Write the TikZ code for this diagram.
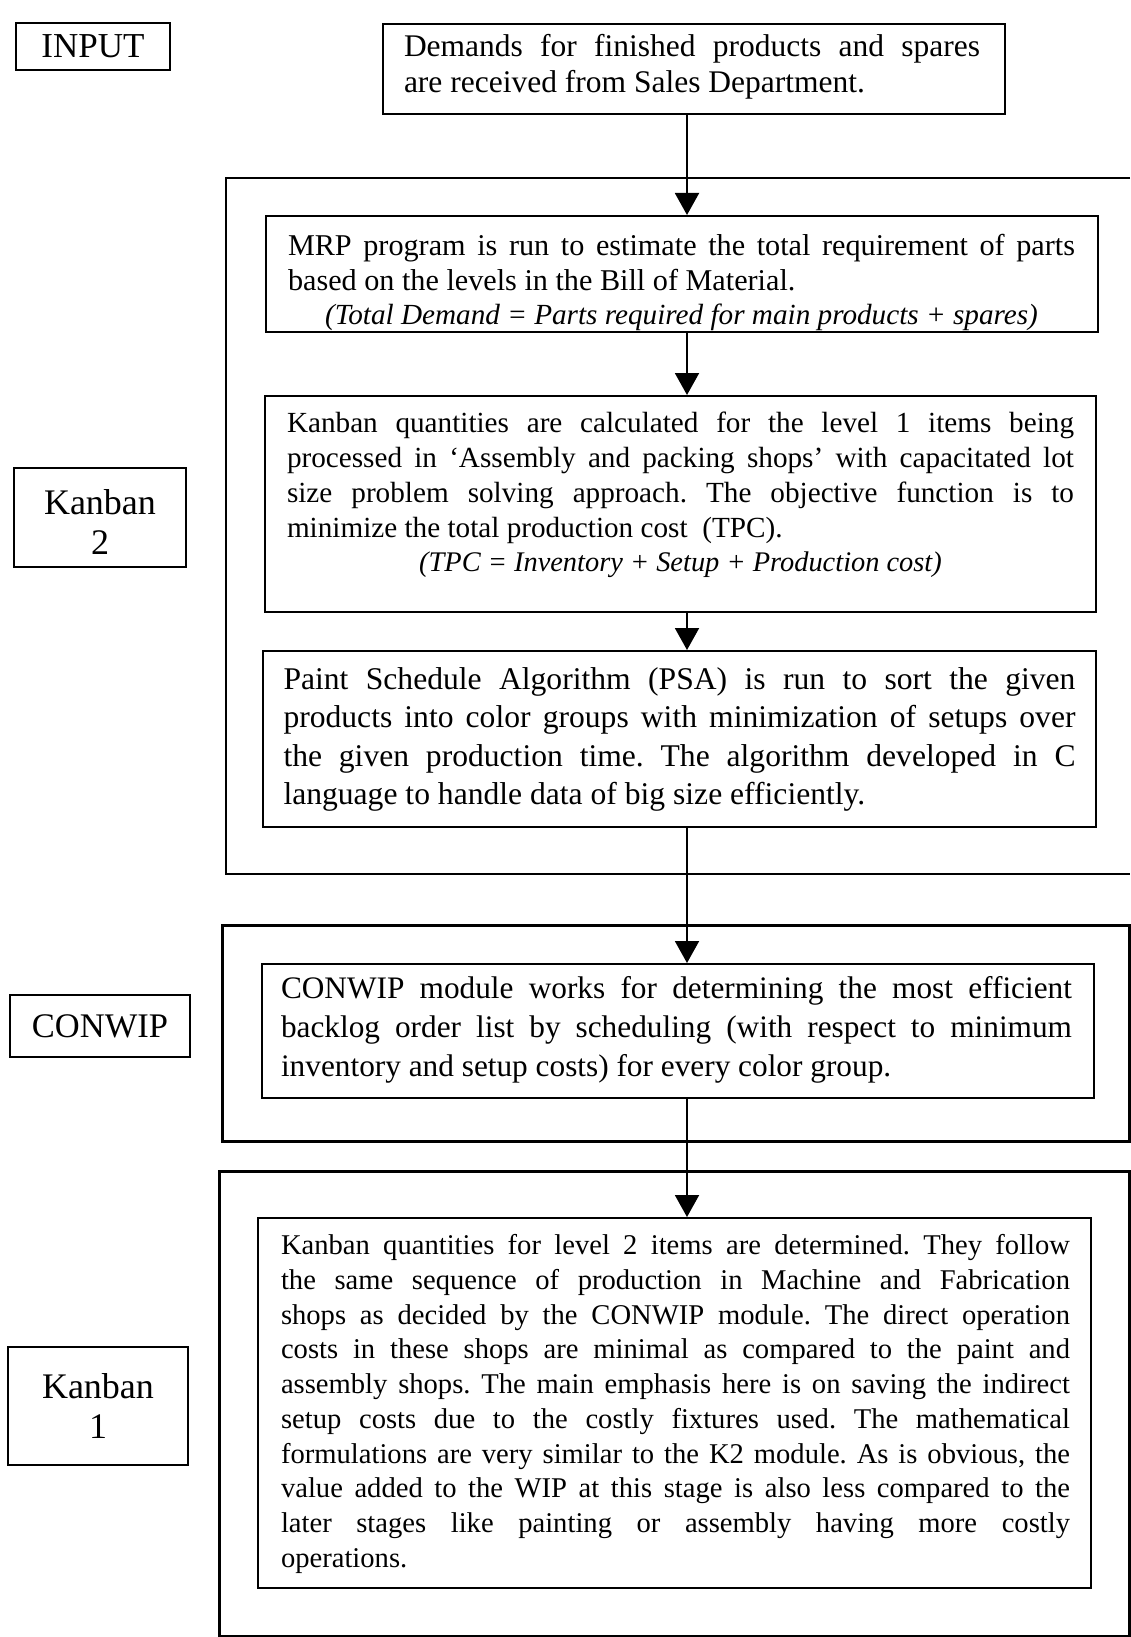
\documentclass[tikz,border=0pt]{standalone}
\usepackage{fontspec}
\setmainfont{Liberation Serif}
\usetikzlibrary{arrows.meta}
\tolerance=10000
\hbadness=10000
\frenchspacing
\setlength\parindent{0pt}
\newcommand\fsz[2]{\fontsize{#1}{#2}\selectfont}
\tikzset{
  box/.style={draw, line width=2.4pt, rectangle, inner sep=0pt, anchor=north west},
  frm/.style={draw, line width=2.6pt},
  txt/.style={inner sep=0pt, text width=#1, align=justify},
  lbl/.style={draw, line width=2.4pt, rectangle, inner sep=0pt, align=center},
  arr/.style={line width=2pt, -{Triangle[length=22pt,width=24pt]}},
}
\begin{document}
\begin{tikzpicture}[x=1pt,y=-1pt]
\useasboundingbox[fill=white] (0,0) rectangle (1130,1637);
% frames
\draw[frm] (1130,178) -- (226,178) -- (226,874) -- (1130,874);
\node[box, frm, minimum width=907pt, minimum height=216pt] (fconwip) at (221,924) {};
\node[box, frm, minimum width=910pt, minimum height=465pt] (fkan1) at (218,1170) {};
% labels
\node[lbl, minimum width=154pt, minimum height=47pt, font=\fsz{35}{38}] (input) at (93,46.5) {INPUT};
\node[lbl, minimum width=172pt, minimum height=99pt] (k2) at (100,517.5) {};
\node[font=\fsz{36}{40}, align=center, inner sep=0pt] (k2T) at (100,522) {Kanban\\2};
\node[lbl, minimum width=180pt, minimum height=62pt, font=\fsz{34.5}{38}] (cw) at (100,1026) {CONWIP};
\node[lbl, minimum width=180pt, minimum height=118pt, font=\fsz{36}{40}] (k1) at (98,1406) {Kanban\\1};
% boxes
\node[box, minimum width=622pt, minimum height=90pt] (dem) at (382,23) {};
\node[box, minimum width=832pt, minimum height=116pt] (mrp) at (265,215) {};
\node[box, minimum width=831pt, minimum height=216pt] (kq) at (264,395) {};
\node[box, minimum width=833pt, minimum height=176pt] (psa) at (262,650) {};
\node[box, minimum width=832pt, minimum height=134pt] (cwb) at (261,963) {};
\node[box, minimum width=833pt, minimum height=370pt] (k1b) at (257,1217) {};
% texts
\node[txt=576pt, font=\fsz{31.5}{36.5}] (demT) at (692,67)
 {Demands for finished products and spares\linebreak are received from Sales Department.};
\node[txt=787pt, font=\fsz{30.2}{35}] (mrpT) at (681.5,282)
 {MRP program is run to estimate the total requirement of parts\linebreak based on the levels in the Bill of Material.\par
 {\centering\fsz{29.2}{34}\itshape (Total Demand = Parts required for main products + spares)\par}};
\node[txt=787pt, font=\fsz{29.2}{34.8}] (kqT) at (680.5,495)
 {Kanban quantities are calculated for the level 1 items being\linebreak processed in ‘Assembly and packing shops’ with capacitated lot\linebreak size problem solving approach. The objective function is to\linebreak minimize the total production cost\ \ (TPC).\par
 {\centering\fsz{28.4}{34.8}\itshape (TPC = Inventory + Setup + Production cost)\par}};
\node[txt=792pt, font=\fsz{31.6}{38.3}] (psaT) at (679.5,739.5)
 {Paint Schedule Algorithm (PSA) is run to sort the given\linebreak products into color groups with minimization of setups over\linebreak the given production time. The algorithm developed in C\linebreak language to handle data of big size efficiently.};
\node[txt=791pt, font=\fsz{31.3}{39}] (cwT) at (676.5,1030)
 {CONWIP module works for determining the most efficient\linebreak backlog order list by scheduling (with respect to minimum\linebreak inventory and setup costs) for every color group.};
\node[txt=789pt, font=\fsz{28.6}{34.7}] (k1T) at (675.5,1404)
 {Kanban quantities for level 2 items are determined. They follow\linebreak the same sequence of production in Machine and Fabrication\linebreak shops as decided by the CONWIP module. The direct operation\linebreak costs in these shops are minimal as compared to the paint and\linebreak assembly shops. The main emphasis here is on saving the indirect\linebreak setup costs due to the costly fixtures used. The mathematical\linebreak formulations are very similar to the K2 module. As is obvious, the\linebreak value added to the WIP at this stage is also less compared to the\linebreak later stages like painting or assembly having more costly\linebreak operations.};
% connectors
\coordinate (ax) at (687,0);
\draw[arr] (dem.south -| ax) -- (mrp.north -| ax);
\draw[arr] (mrp.south -| ax) -- (kq.north -| ax);
\draw[arr] (kq.south -| ax) -- (psa.north -| ax);
\draw[arr] (psa.south -| ax) -- (cwb.north -| ax);
\draw[arr] (cwb.south -| ax) -- (k1b.north -| ax);
\end{tikzpicture}
\end{document}
